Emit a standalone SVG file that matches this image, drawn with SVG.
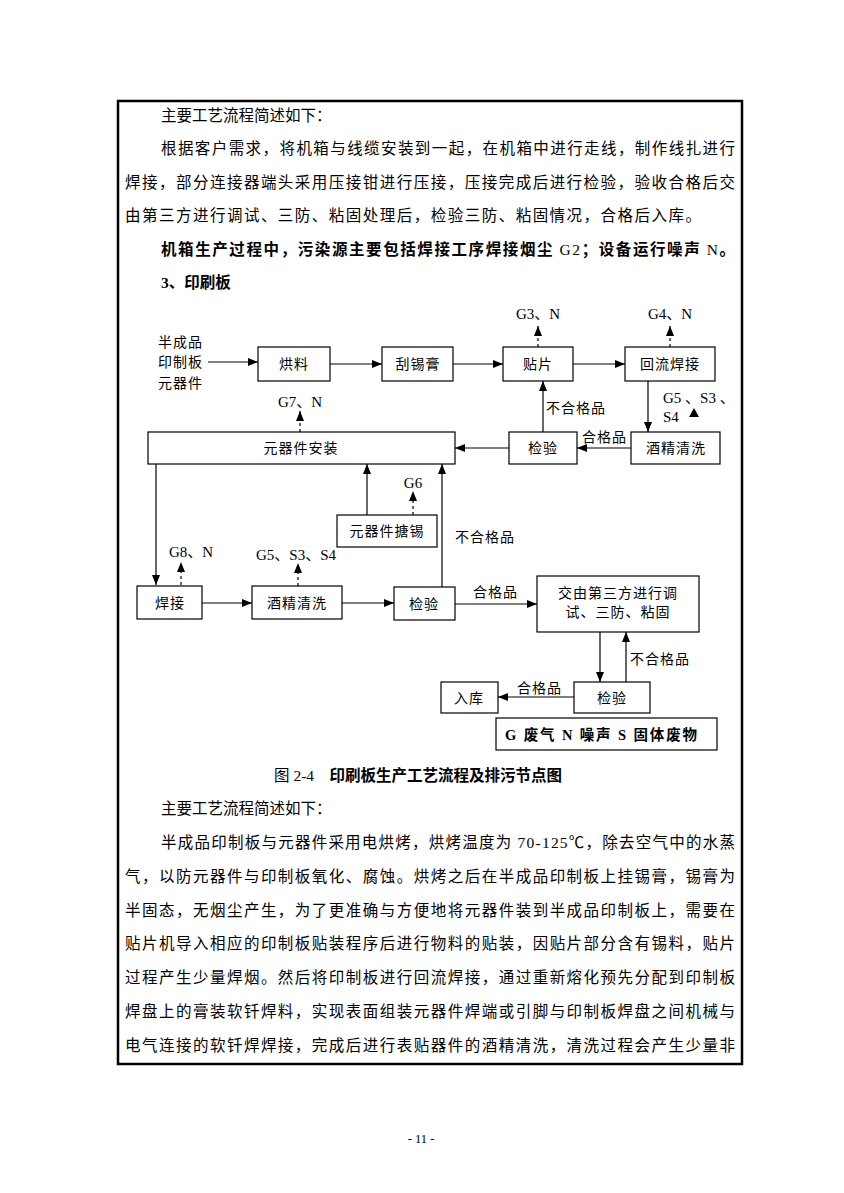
<svg xmlns="http://www.w3.org/2000/svg" width="844" height="1193" viewBox="0 0 844 1193">
<style>
.body{font-family:"Liberation Serif","Noto Sans CJK SC",serif;font-size:15.5px;fill:#000}
.bold{font-weight:bold}
.box{fill:#fff;stroke:#000;stroke-width:1.2}
.lbl{font-family:"Noto Sans CJK SC",sans-serif;font-size:14px;fill:#000;text-anchor:middle;letter-spacing:1px}
.lab{font-family:"Noto Sans CJK SC",sans-serif;font-size:14px;fill:#000;letter-spacing:1px}
.em{font-family:"Liberation Serif","Noto Sans CJK SC",serif;font-size:15px;fill:#000}
.ln{fill:none;stroke:#000;stroke-width:1.2}
.dash{fill:none;stroke:#000;stroke-width:1.2;stroke-dasharray:3 3}
</style>
<defs>
<marker id="ar" viewBox="0 0 10 8" refX="10" refY="4" markerWidth="10" markerHeight="8" markerUnits="userSpaceOnUse" orient="auto">
<path d="M0,0 L10,4 L0,8 z" fill="#000"/>
</marker>
</defs>
<rect width="844" height="1193" fill="#fff"/>
<rect x="118" y="101" width="624" height="963" fill="none" stroke="#000" stroke-width="2.5"/>

<g id="text-top">
<text class="body" x="161" y="121">主要工艺流程简述如下：</text>
<text class="body" x="161" y="154" textLength="574" lengthAdjust="spacing">根据客户需求，将机箱与线缆安装到一起，在机箱中进行走线，制作线扎进行</text>
<text class="body" x="125" y="188" textLength="610" lengthAdjust="spacing">焊接，部分连接器端头采用压接钳进行压接，压接完成后进行检验，验收合格后交</text>
<text class="body" x="125" y="221" textLength="576" lengthAdjust="spacing">由第三方进行调试、三防、粘固处理后，检验三防、粘固情况，合格后入库。</text>
<text class="body bold" x="161" y="255" textLength="574" lengthAdjust="spacing">机箱生产过程中，污染源主要包括焊接工序焊接烟尘 <tspan font-weight="normal">G2</tspan>；设备运行噪声 <tspan font-weight="normal">N</tspan>。</text>
<text class="body bold" x="161" y="288">3、印刷板</text>
</g>

<g id="connectors">
<path class="ln" d="M208,362 H258" marker-end="url(#ar)"/>
<path class="ln" d="M330,364 H382" marker-end="url(#ar)"/>
<path class="ln" d="M453,364 H503" marker-end="url(#ar)"/>
<path class="ln" d="M573,364 H625" marker-end="url(#ar)"/>
<path class="ln" d="M648,381 V432" marker-end="url(#ar)"/>
<path class="ln" d="M631,448 H577" marker-end="url(#ar)"/>
<path class="ln" d="M543,432 V381" marker-end="url(#ar)"/>
<path class="ln" d="M509,448 H455" marker-end="url(#ar)"/>
<path class="ln" d="M156,464 V585" marker-end="url(#ar)"/>
<path class="ln" d="M202,603 H252" marker-end="url(#ar)"/>
<path class="ln" d="M342,603 H394" marker-end="url(#ar)"/>
<path class="ln" d="M442,588 V464" marker-end="url(#ar)"/>
<path class="ln" d="M367,515 V464" marker-end="url(#ar)"/>
<path class="ln" d="M455,604 H537" marker-end="url(#ar)"/>
<path class="ln" d="M600,632 V682" marker-end="url(#ar)"/>
<path class="ln" d="M626,682 V632" marker-end="url(#ar)"/>
<path class="ln" d="M574,697 H498" marker-end="url(#ar)"/>
<path class="dash" d="M538,347 V326" marker-end="url(#ar)"/>
<path class="dash" d="M670,347 V326" marker-end="url(#ar)"/>
<path class="dash" d="M300,432 V411" marker-end="url(#ar)"/>
<path class="dash" d="M413,515 V491" marker-end="url(#ar)"/>
<path class="dash" d="M181,585 V562" marker-end="url(#ar)"/>
<path class="dash" d="M298,586 V563" marker-end="url(#ar)"/>
<path d="M689,417 L694,408 L699,417 z" fill="#000"/>
</g>

<g id="labels">
<text class="em" x="538" y="319" text-anchor="middle">G3、N</text>
<text class="em" x="670" y="319" text-anchor="middle">G4、N</text>
<text class="em" x="300" y="407" text-anchor="middle">G7、N</text>
<text class="em" x="413" y="488" text-anchor="middle">G6</text>
<text class="em" x="191" y="557" text-anchor="middle">G8、N</text>
<text class="em" x="296" y="560" text-anchor="middle">G5、S3、S4</text>
<text class="em" x="663" y="403">G5 、S3 、</text>
<text class="em" x="663" y="422">S4</text>
<text class="lab" x="546" y="413">不合格品</text>
<text class="lab" x="582" y="442">合格品</text>
<text class="lab" x="455" y="542">不合格品</text>
<text class="lab" x="473" y="597">合格品</text>
<text class="lab" x="630" y="664">不合格品</text>
<text class="lab" x="517" y="693">合格品</text>
</g>

<g id="n-input">
<text class="lab" x="158" y="347">半成品</text>
<text class="lab" x="158" y="367">印制板</text>
<text class="lab" x="158" y="388">元器件</text>
</g>
<g id="n-hongliao"><rect class="box" x="258" y="347" width="72" height="34"/><text class="lbl" x="294" y="369">烘料</text></g>
<g id="n-guaxigao"><rect class="box" x="382" y="347" width="71" height="34"/><text class="lbl" x="418" y="369">刮锡膏</text></g>
<g id="n-tiepian"><rect class="box" x="503" y="347" width="70" height="34"/><text class="lbl" x="538" y="369">贴片</text></g>
<g id="n-huiliu"><rect class="box" x="625" y="347" width="90" height="34"/><text class="lbl" x="670" y="369">回流焊接</text></g>
<g id="n-qingxi1"><rect class="box" x="631" y="432" width="89" height="32"/><text class="lbl" x="676" y="453">酒精清洗</text></g>
<g id="n-jianyan1"><rect class="box" x="509" y="432" width="68" height="32"/><text class="lbl" x="543" y="453">检验</text></g>
<g id="n-anzhuang"><rect class="box" x="148" y="432" width="307" height="32"/><text class="lbl" x="301" y="453">元器件安装</text></g>
<g id="n-tangxi"><rect class="box" x="337" y="515" width="100" height="32"/><text class="lbl" x="387" y="536">元器件搪锡</text></g>
<g id="n-hanjie"><rect class="box" x="137" y="586" width="65" height="33"/><text class="lbl" x="170" y="608">焊接</text></g>
<g id="n-qingxi2"><rect class="box" x="252" y="586" width="90" height="33"/><text class="lbl" x="297" y="608">酒精清洗</text></g>
<g id="n-jianyan2"><rect class="box" x="394" y="587" width="61" height="33"/><text class="lbl" x="424" y="609">检验</text></g>
<g id="n-disanfang"><rect class="box" x="537" y="576" width="162" height="56"/><text class="lbl" x="618" y="598">交由第三方进行调</text><text class="lbl" x="618" y="617">试、三防、粘固</text></g>
<g id="n-jianyan3"><rect class="box" x="574" y="682" width="76" height="31"/><text class="lbl" x="612" y="703">检验</text></g>
<g id="n-ruku"><rect class="box" x="441" y="682" width="57" height="31"/><text class="lbl" x="469" y="703">入库</text></g>
<g id="legend"><rect class="box" x="496" y="718" width="221" height="32" stroke-width="1.5"/><text x="505" y="740" font-family="Liberation Serif,Noto Sans CJK SC,serif" font-size="14.5" font-weight="bold" textLength="192" lengthAdjust="spacing">G  废气  N 噪声  S  固体废物</text></g>

<g id="text-bottom">
<text class="body" x="274" y="781">图 2-4　<tspan class="bold">印刷板生产工艺流程及排污节点图</tspan></text>
<text class="body" x="161" y="814">主要工艺流程简述如下：</text>
<text class="body" x="161" y="848" textLength="574" lengthAdjust="spacing">半成品印制板与元器件采用电烘烤，烘烤温度为 70-125℃，除去空气中的水蒸</text>
<text class="body" x="125" y="882" textLength="610" lengthAdjust="spacing">气，以防元器件与印制板氧化、腐蚀。烘烤之后在半成品印制板上挂锡膏，锡膏为</text>
<text class="body" x="125" y="916" textLength="610" lengthAdjust="spacing">半固态，无烟尘产生，为了更准确与方便地将元器件装到半成品印制板上，需要在</text>
<text class="body" x="125" y="949" textLength="610" lengthAdjust="spacing">贴片机导入相应的印制板贴装程序后进行物料的贴装，因贴片部分含有锡料，贴片</text>
<text class="body" x="125" y="983" textLength="610" lengthAdjust="spacing">过程产生少量焊烟。然后将印制板进行回流焊接，通过重新熔化预先分配到印制板</text>
<text class="body" x="125" y="1017" textLength="610" lengthAdjust="spacing">焊盘上的膏装软钎焊料，实现表面组装元器件焊端或引脚与印制板焊盘之间机械与</text>
<text class="body" x="125" y="1051" textLength="610" lengthAdjust="spacing">电气连接的软钎焊焊接，完成后进行表贴器件的酒精清洗，清洗过程会产生少量非</text>
<text x="421" y="1143" font-family="Liberation Serif,serif" font-size="12.5" text-anchor="middle">- 11 -</text>
</g>
</svg>
